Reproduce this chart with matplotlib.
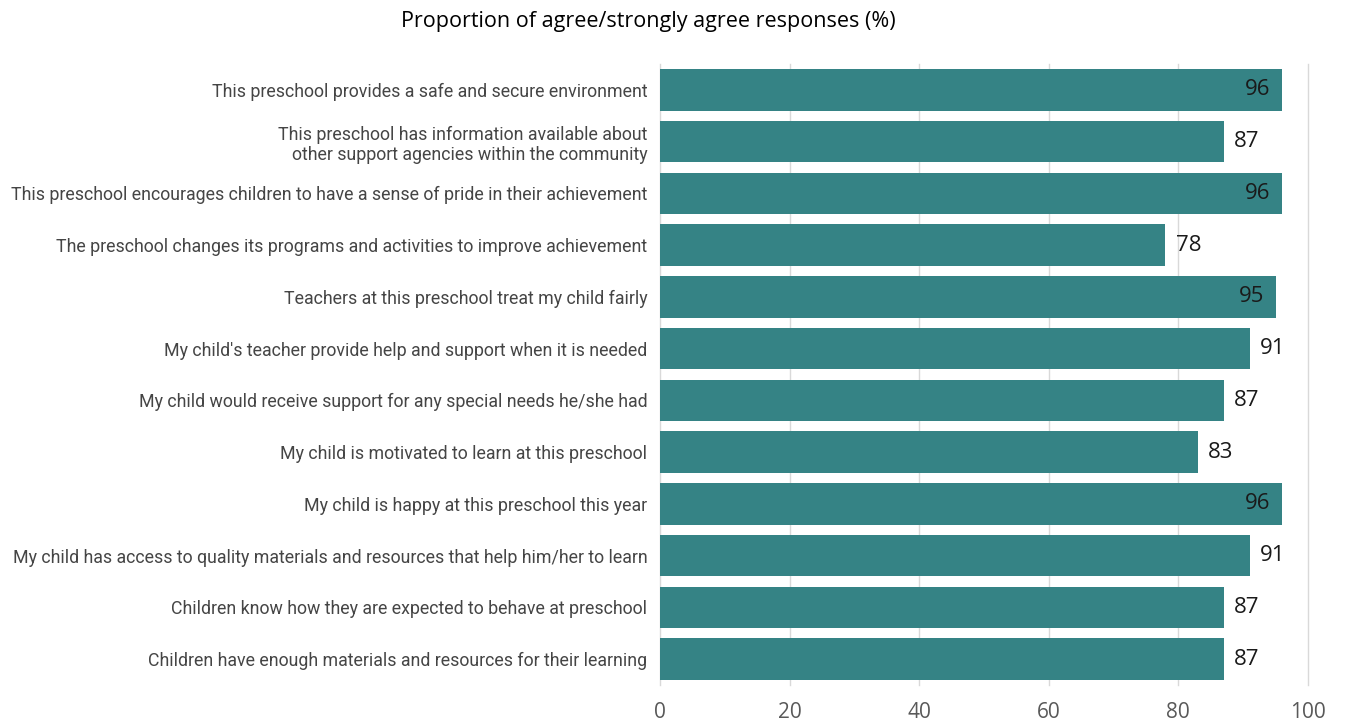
import matplotlib
matplotlib.use("Agg")
import matplotlib.pyplot as plt

# Survey statements, top to bottom
statements = [
    "This preschool provides a safe and secure environment",
    "This preschool has information available about\nother support agencies within the community",
    "This preschool encourages children to have a sense of pride in their achievement",
    "The preschool changes its programs and activities to improve achievement",
    "Teachers at this preschool treat my child fairly",
    "My child's teacher provide help and support when it is needed",
    "My child would receive support for any special needs he/she had",
    "My child is motivated to learn at this preschool",
    "My child is happy at this preschool this year",
    "My child has access to quality materials and resources that help him/her to learn",
    "Children know how they are expected to behave at preschool",
    "Children have enough materials and resources for their learning",
]
agree_pct = [96, 87, 96, 78, 95, 91, 87, 83, 96, 91, 87, 87]
x_ticks = [0, 20, 40, 60, 80, 100]

plt.rcParams["font.family"] = ["Open Sans", "DejaVu Sans"]

fig = plt.figure(figsize=(13.46, 7.22), dpi=100)
ax = fig.add_axes([0.4903, 0.0512, 0.4814, 0.8602])

ypos = list(range(len(statements)))
bars = ax.barh(ypos, agree_pct, height=0.8, color="#358385", zorder=2)

# Value labels: inside the bar for the longest ones, just outside otherwise
for y, v in zip(ypos, agree_pct):
    if v >= 95:
        ax.text(v - 1.8, y, str(v), ha="right", va="center", fontsize=16,
                color="#1a1a1a", zorder=3)
    else:
        ax.text(v + 1.6, y, str(v), ha="left", va="center", fontsize=16,
                color="#1a1a1a", zorder=3)

ax.set_yticks(ypos)
ax.set_yticklabels(statements, fontsize=12.8, color="#454545",
                   family=["Roboto", "DejaVu Sans"])
ax.set_ylim(len(statements) - 0.5, -0.5)
ax.set_xlim(0, 100)
ax.set_xticks(x_ticks)
ax.set_xticklabels([str(t) for t in x_ticks], fontsize=15, color="#595959")
ax.tick_params(length=0)
ax.tick_params(axis="y", pad=9)
ax.tick_params(axis="x", pad=12)

ax.grid(axis="x", color="#d9d9d9", linewidth=1, zorder=0)
for gl in ax.get_xgridlines():
    gl.set_clip_on(False)
for s in ax.spines.values():
    s.set_visible(False)

fig.text(0.4815, 0.97, "Proportion of agree/strongly agree responses (%)",
         ha="center", va="center", fontsize=15.5, color="#000000")

fig.savefig("out.png", dpi=100)
